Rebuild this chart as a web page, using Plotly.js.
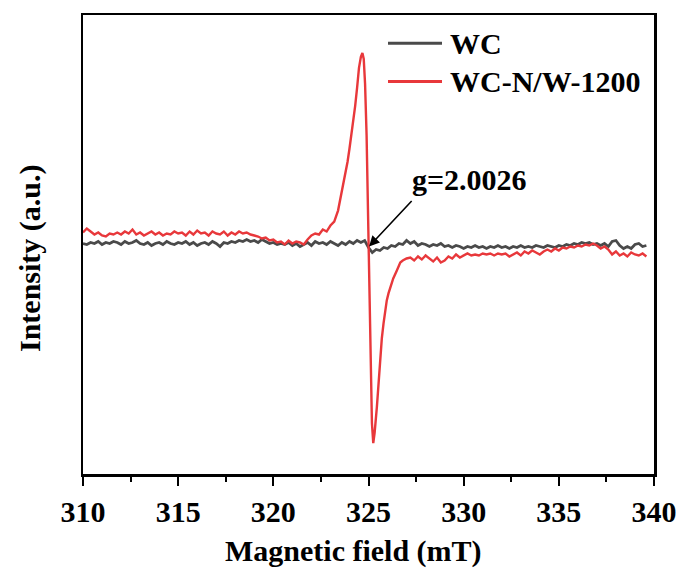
<!DOCTYPE html>
<html>
<head>
<meta charset="utf-8">
<script src="https://cdn.plot.ly/plotly-3.0.1.min.js"></script>
<style>
  html, body { margin: 0; padding: 0; background: #ffffff; }
  #chart { width: 681px; height: 569px; }
</style>
</head>
<body>
<div id="chart"></div>
<script>
// WC: EPR sweep from 310.0 mT in 0.2 mT steps
const wcFieldStart = 310.0;
const wcFieldStep = 0.2;

// WC spectrum (a.u.)
const wcIntensity = [
  0, -1, 1, 0, 2, -1, 1, 0, 2, 1,
  -1, 2, 0, 1, 3, 0, -1, 1, -2, 0,
  1, -1, 2, 0, -1, 1, 0, 2, -1, 1,
  -2, 0, 1, -1, 2, 0, -3, 1, 0, 2,
  1, 3, 2, 4, 2, 3, 1, 4, 2, 0,
  1, -1, 0, -1, 1, -2, 0, -3, -1, 1,
  -2, 2, 0, 1, -1, 2, 0, -2, 1, -1,
  2, 0, 3, 1, 3, -4, -9, -6, -7, -4,
  -5, -2, -3, 0, -1, 3, 0, 2, -2, 0,
  -1, -3, -1, -2, 0, -3, -2, -4, -2, -3,
  -5, -3, -4, -2, -4, -3, -5, -3, -4, -2,
  -4, -3, -5, -3, -4, -2, -4, -3, -4, -2,
  -3, -4, -2, -3, -4, -2, -3, -1, -2, 0,
  -1, 1, 0, 1, -1, 0, -2, 0, -3, 2,
  3, -2, -5, -3, -5, -1, 0, -3, -2
];

// WC-N/W-1200: field points (mT), denser across the resonance
const wcnwField = [
  310.0, 310.2, 310.4, 310.6, 310.8, 311.0, 311.2, 311.4, 311.6, 311.8,
  312.0, 312.2, 312.4, 312.6, 312.8, 313.0, 313.2, 313.4, 313.6, 313.8,
  314.0, 314.2, 314.4, 314.6, 314.8, 315.0, 315.2, 315.4, 315.6, 315.8,
  316.0, 316.2, 316.4, 316.6, 316.8, 317.0, 317.2, 317.4, 317.6, 317.8,
  318.0, 318.2, 318.4, 318.6, 318.8, 319.0, 319.2, 319.4, 319.6, 319.8,
  320.0, 320.2, 320.4, 320.6, 320.8, 321.0, 321.2, 321.4, 321.6, 321.8,
  322.0, 322.2, 322.4, 322.6, 322.8,
  323.0, 323.2, 323.4, 323.5, 323.6, 323.7, 323.8, 323.9, 324.0, 324.1,
  324.2, 324.3, 324.4, 324.5, 324.6, 324.68, 324.75, 324.82, 324.9, 325.0,
  325.1, 325.18, 325.25, 325.32, 325.44, 325.52, 325.61, 325.7, 325.79, 325.88,
  325.96, 326.05, 326.14, 326.3, 326.49, 326.67, 326.8, 327.0,
  327.2, 327.4, 327.6, 327.8,
  328.0, 328.2, 328.4, 328.6, 328.8, 329.0, 329.2, 329.4, 329.6, 329.8,
  330.0, 330.2, 330.4, 330.6, 330.8, 331.0, 331.2, 331.4, 331.6, 331.8,
  332.0, 332.2, 332.4, 332.6, 332.8, 333.0, 333.2, 333.4, 333.6, 333.8,
  334.0, 334.2, 334.4, 334.6, 334.8, 335.0, 335.2, 335.4, 335.6, 335.8,
  336.0, 336.2, 336.4, 336.6, 336.8, 337.0, 337.2, 337.4, 337.6, 337.8,
  338.0, 338.2, 338.4, 338.6, 338.8, 339.0, 339.2, 339.4, 339.6
];

// WC-N/W-1200 spectrum (a.u.)
const wcnwIntensity = [
  11, 15, 12, 9, 11, 8, 7, 10, 9, 11,
  9, 12, 10, 14, 9, 11, 8, 10, 12, 9,
  11, 8, 10, 9, 12, 10, 11, 8, 12, 9,
  13, 10, 11, 8, 12, 10, 9, 12, 8, 11,
  9, 12, 10, 11, 9, 8, 7, 5, 6, 3,
  4, 1, 2, -1, 3, 0, 2, 1, -1, 4,
  8, 10, 9, 14, 12,
  18, 22, 33, 43, 52, 62, 70, 82, 95, 108,
  120, 138, 156, 176, 187, 191, 185, 160, 108, 3,
  -105, -180, -200, -190, -164, -140, -114, -95, -80, -67,
  -57, -50, -44, -35, -27, -19, -17, -15,
  -14, -17, -13, -16,
  -12, -15, -18, -14, -19, -17, -13, -15, -11, -14,
  -12, -10, -12, -11, -12, -10, -11, -10, -12, -10,
  -11, -10, -13, -11, -9, -12, -8, -10, -7, -9,
  -11, -8, -6, -8, -5, -7, -4, -5, -3, -4,
  -2, -3, -1, -2, 0, -2, -5, -3, -6, -11,
  -8, -12, -10, -13, -9, -11, -12, -10, -13
];

const seriesNames = ['WC', 'WC-N/W-1200'];
const seriesColors = ['#4a4a4a', '#e8383b'];

const gLabel = 'g=2.0026';
const gField = 325.03;
const gIntensity = -3;

const wcField = wcIntensity.map((_, i) => +(wcFieldStart + i * wcFieldStep).toFixed(2));

const serif = 'Liberation Serif, Times New Roman, serif';
const boldFont = (size, color) => ({ family: serif, size: size, color: color || '#000', weight: 700 });

const traces = [
  {
    x: wcField, y: wcIntensity, name: seriesNames[0],
    type: 'scatter', mode: 'lines',
    line: { color: seriesColors[0], width: 2.8 }
  },
  {
    x: wcnwField, y: wcnwIntensity, name: seriesNames[1],
    type: 'scatter', mode: 'lines',
    line: { color: seriesColors[1], width: 2.4 }
  }
];

// legend drawn as line samples + labels in paper space
const legendRows = [0.9383, 0.8551];
const legendShapes = seriesNames.map((n, i) => ({
  type: 'line', xref: 'paper', yref: 'paper',
  x0: (388 - 83) / 571, x1: (442 - 83) / 571,
  y0: legendRows[i], y1: legendRows[i],
  line: { color: seriesColors[i], width: 3 }
}));
const legendLabels = seriesNames.map((n, i) => ({
  xref: 'paper', yref: 'paper',
  x: (448 - 83) / 571, y: legendRows[i],
  xanchor: 'left', yanchor: 'middle',
  text: n, showarrow: false,
  font: boldFont(30)
}));

const layout = {
  width: 681, height: 569,
  margin: { l: 83, r: 27, t: 15, b: 95 },
  paper_bgcolor: '#ffffff', plot_bgcolor: '#ffffff',
  showlegend: false,
  xaxis: {
    range: [310, 340],
    tickmode: 'linear', tick0: 310, dtick: 5,
    ticks: 'outside', ticklen: 9, tickwidth: 2, tickcolor: '#000',
    minor: { tickmode: 'linear', tick0: 310, dtick: 2.5, ticks: 'outside', ticklen: 5, tickwidth: 2, tickcolor: '#000', showgrid: false },
    tickfont: boldFont(30),
    showline: true, linecolor: '#000', linewidth: 2.5, mirror: true,
    showgrid: false, zeroline: false
  },
  yaxis: {
    range: [-231, 229],
    showticklabels: false, ticks: '',
    showline: true, linecolor: '#000', linewidth: 2.5, mirror: true,
    showgrid: false, zeroline: false
  },
  shapes: legendShapes,
  annotations: [
    ...legendLabels,
    {
      xref: 'paper', yref: 'paper', x: (353 - 83) / 571, y: (474 - 551) / 459,
      xanchor: 'center', yanchor: 'middle', showarrow: false,
      text: 'Magnetic field (mT)', font: boldFont(30)
    },
    {
      xref: 'paper', yref: 'paper', x: (30 - 83) / 571, y: (474 - 258) / 459,
      xanchor: 'center', yanchor: 'middle', showarrow: false, textangle: -90,
      text: 'Intensity (a.u.)', font: boldFont(30)
    },
    {
      xref: 'x', yref: 'y', x: gField, y: gIntensity,
      ax: 44, ay: -47, text: '', showarrow: true,
      arrowhead: 2, arrowsize: 1.3, arrowwidth: 1.6, arrowcolor: '#000'
    },
    {
      xref: 'paper', yref: 'paper', x: (410 - 83) / 571, y: (474 - 179) / 459,
      xanchor: 'left', yanchor: 'middle', showarrow: false,
      text: gLabel, font: boldFont(30)
    }
  ]
};

Plotly.newPlot('chart', traces, layout, { staticPlot: true, displayModeBar: false });
</script>
</body>
</html>
